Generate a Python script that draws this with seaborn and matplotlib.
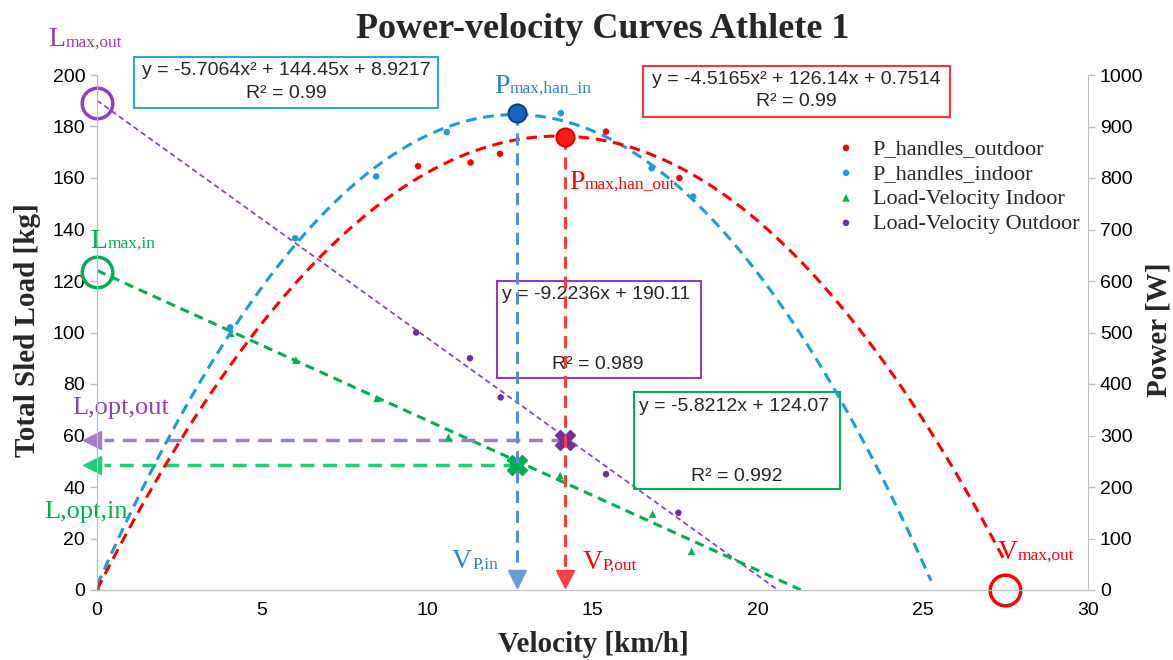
import matplotlib
matplotlib.use('Agg')
import matplotlib.pyplot as plt
import seaborn as sns
import numpy as np
from matplotlib.patches import Rectangle
from matplotlib.offsetbox import TextArea, HPacker, AnnotationBbox

# power at the handles (W) vs velocity (km/h)
p_out_v = [0, 9.72, 11.31, 12.2, 14.14, 15.41, 17.63]
p_out_w = [0, 823, 830, 847, 879, 890, 800]
p_in_v = [0, 4.03, 6.0, 8.45, 10.59, 12.72, 14.04, 16.79, 18.05]
p_in_w = [0, 510, 683, 803, 889, 926, 926, 819, 764]

# load-velocity (kg vs km/h)
lv_in_v = [4.05, 6.02, 8.48, 10.64, 14.02, 16.82, 18.0]
lv_in_kg = [99.7, 89.3, 74.4, 59.3, 44.4, 29.5, 15.0]
lv_out_v = [9.66, 11.29, 12.22, 15.41, 17.6]
lv_out_kg = [100.0, 90.0, 74.8, 45.0, 30.0]

# trendlines as printed on the chart, and how far each one is drawn
fit_p_in = [-5.7064, 144.45, 8.9217]
fit_p_out = [-4.5165, 126.14, 0.7514]
fit_lv_out = [-9.2236, 190.11]
fit_lv_in = [-5.8212, 124.07]
end_p_in, end_p_out, end_lv_out, end_lv_in = 25.25, 27.5, 20.6, 21.3

# key points
vp_in, vp_out = 12.72, 14.17
pmax_in, pmax_out = 926, 879
lopt_in, lopt_out = 48.5, 58.3
lmax_in, lmax_out = 123.4, 189.0
vmax_out = 27.5

C_RED = '#FF0000'
C_BLUE = '#1E9BD7'
C_GREEN = '#00B050'
C_PURPLE = '#7030A0'
SERIF = ['Liberation Serif', 'DejaVu Serif']

sns.set_style('white')
plt.rcParams['font.family'] = ['Liberation Sans', 'DejaVu Sans']

fig = plt.figure(figsize=(11.73, 6.6), dpi=100)
ax = fig.add_axes([97 / 1173, 70 / 660, 991 / 1173, 515 / 660])
ax2 = ax.twinx()


def trend(a, coefs, end, color, lw, dash):
    xs = np.linspace(0, end, 300)
    sns.lineplot(x=xs, y=np.polyval(coefs, xs), ax=a, color=color, lw=lw,
                 linestyle=(0, dash), legend=False)


# fitted curves
trend(ax2, fit_p_in, end_p_in, C_BLUE, 2.2, (3.5, 2.2))
trend(ax2, fit_p_out, end_p_out, C_RED, 2.2, (3.5, 2.2))
trend(ax, fit_lv_out, end_lv_out, '#8E44C0', 1.3, (3, 2))
trend(ax, fit_lv_in, end_lv_in, C_GREEN, 2.2, (3, 2))

# data points
sns.scatterplot(x=lv_in_v, y=lv_in_kg, ax=ax, color=C_GREEN, marker='^', s=30,
                edgecolor='none', label='Load-Velocity Indoor', zorder=4)
sns.scatterplot(x=lv_out_v, y=lv_out_kg, ax=ax, color=C_PURPLE, marker='o', s=22,
                edgecolor='none', label='Load-Velocity Outdoor', zorder=4)
sns.scatterplot(x=p_out_v, y=p_out_w, ax=ax2, color=C_RED, marker='o', s=22,
                edgecolor='none', label='P_handles_outdoor', zorder=4)
sns.scatterplot(x=p_in_v, y=p_in_w, ax=ax2, color=C_BLUE, marker='o', s=22,
                edgecolor='none', label='P_handles_indoor', zorder=4)

# vertical arrows from the power peaks
ax2.plot([vp_in, vp_in], [pmax_in, 30], color='#5B8DD6', lw=2.2, ls=(0, (4, 2.5)))
ax2.plot([vp_out, vp_out], [pmax_out, 30], color='#FF3B3B', lw=2.2, ls=(0, (4, 2.5)))
ax2.plot(vp_in, 22, marker='v', ms=13, color='#6A9AD8', clip_on=False)
ax2.plot(vp_out, 22, marker='v', ms=13, color='#FF4040', clip_on=False)
ax2.plot(vp_in, pmax_in, marker='o', ms=13, color='#1565C0', mec='#0D3F80', mew=1.5, zorder=6)
ax2.plot(vp_out, pmax_out, marker='o', ms=13, color='#FF1A1A', mec='#E00000', mew=1.5, zorder=6)

# horizontal arrows to the optimal loads
ax.plot([vp_out, 0.2], [lopt_out, lopt_out], color='#A47BC8', lw=2.5, ls=(0, (4, 2.5)))
ax.plot([vp_in, 0.2], [lopt_in, lopt_in], color='#1ECF7A', lw=2.5, ls=(0, (4, 2.5)))
ax.plot(-0.15, lopt_out, marker='<', ms=13, color='#A47BC8', clip_on=False)
ax.plot(-0.15, lopt_in, marker='<', ms=13, color='#1ECF7A', clip_on=False)
ax.plot(vp_out, lopt_out, marker='X', ms=15, color=C_PURPLE, mec=C_PURPLE, zorder=6)
ax.plot(vp_in, lopt_in, marker='X', ms=15, color=C_GREEN, mec=C_GREEN, zorder=6)

# hollow circles for intercepts
ax.plot(0, lmax_out, marker='o', ms=22, mfc='none', mec='#8E3FBF', mew=2.5, clip_on=False)
ax.plot(0, lmax_in, marker='o', ms=22, mfc='none', mec=C_GREEN, mew=2.5, clip_on=False)
ax.plot(vmax_out, 0, marker='o', ms=22, mfc='none', mec=C_RED, mew=2.5, clip_on=False, zorder=6)

ax.set_xlim(0, 30)
ax.set_ylim(0, 200)
ax2.set_ylim(0, 1000)
ax.set_xticks(range(0, 31, 5))
ax.set_yticks(range(0, 201, 20))
ax2.set_yticks(range(0, 1001, 100))

for a in (ax, ax2):
    for side in a.spines:
        a.spines[side].set_color('#BFBFBF')
    a.spines['top'].set_visible(False)
    a.tick_params(direction='out', length=5, color='#BFBFBF', labelsize=14,
                  labelcolor='black', width=1)
ax.spines['right'].set_visible(False)
ax.set_xlabel('')
ax.set_ylabel('')
ax2.set_ylabel('')

# equation boxes
def eq_box(x0, x1, y0, y1, color):
    ax.add_patch(Rectangle((x0, y0), x1 - x0, y1 - y0, fill=False, ec=color,
                           lw=1.5, clip_on=False, zorder=5))


eq_box(1.12, 10.32, 187.2, 207.0, '#2EA3DC')
ax.text(5.72, 201.9, 'y = -5.7064x² + 144.45x + 8.9217', ha='center', va='center', fontsize=14)
ax.text(5.72, 193.0, 'R² = 0.99', ha='center', va='center', fontsize=14)

eq_box(16.53, 25.82, 183.7, 203.5, '#FF3333')
ax.text(21.16, 198.4, 'y = -4.5165x² + 126.14x + 0.7514', ha='center', va='center', fontsize=14)
ax.text(21.16, 189.9, 'R² = 0.99', ha='center', va='center', fontsize=14)

eq_box(12.11, 18.29, 82.3, 120.0, '#8E3FBF')
ax.text(12.26, 114.6, 'y = -9.2236x + 190.11', ha='left', va='center', fontsize=14)
ax.text(15.17, 87.4, 'R² = 0.989', ha='center', va='center', fontsize=14)

eq_box(16.26, 22.49, 39.2, 76.9, C_GREEN)
ax.text(16.41, 71.2, 'y = -5.8212x + 124.07', ha='left', va='center', fontsize=14)
ax.text(19.38, 44.0, 'R² = 0.992', ha='center', va='center', fontsize=14)


# labels with a large first letter and a smaller remainder
def tag(x, y, big, small, color, big_size=20, small_size=12.5):
    parts = [TextArea(big, textprops=dict(color=color, fontsize=big_size, family=SERIF)),
             TextArea(small, textprops=dict(color=color, fontsize=small_size, family=SERIF))]
    box = HPacker(children=parts, align='baseline', pad=0, sep=0)
    ab = AnnotationBbox(box, (x, y), xycoords=ax.transData, frameon=False,
                        box_alignment=(0.5, 0.5), annotation_clip=False, zorder=7)
    ax2.add_artist(ab)


tag(-0.36, 213.6, 'L', 'max,out', '#8E3FBF')
tag(0.79, 135.5, 'L', 'max,in', '#00B050')
tag(13.5, 195.7, 'P', 'max,han_in', '#2F7FD0')
tag(15.9, 158.4, 'P', 'max,han_out', C_RED)
tag(11.44, 10.9, 'V', 'P,in', '#2F7FD0')
tag(15.53, 10.5, 'V', 'P,out', C_RED)
tag(28.43, 14.4, 'V', 'max,out', C_RED)
ax.text(0.73, 70.7, 'L,opt,out', color='#8E3FBF', fontsize=19, family=SERIF,
        ha='center', va='center', clip_on=False)
ax.text(-0.33, 30.3, 'L,opt,in', color='#00B050', fontsize=19, family=SERIF,
        ha='center', va='center', clip_on=False)

# legend
if ax.get_legend() is not None:
    ax.get_legend().remove()
h2, l2 = ax2.get_legend_handles_labels()
h1, l1 = ax.get_legend_handles_labels()
ax2.legend(h2 + h1, l2 + l1, loc='upper left', frameon=False,
           bbox_to_anchor=(826 / 1173, 1 - 127 / 660), bbox_transform=fig.transFigure,
           prop=dict(family=SERIF, size=16), handlelength=0.8, handletextpad=0.8,
           labelspacing=0.2, borderpad=0)

fig.text(603 / 1173, 1 - 30 / 660, 'Power-velocity Curves Athlete 1', ha='center', va='center',
         fontsize=26, fontweight='bold', family=SERIF)
fig.text(593 / 1173, 1 - 644 / 660, 'Velocity [km/h]', ha='center', va='center',
         fontsize=21, fontweight='bold', family=SERIF)
fig.text(28 / 1173, 1 - 330 / 660, 'Total Sled Load [kg]', ha='center', va='center',
         rotation=90, fontsize=21, fontweight='bold', family=SERIF)
fig.text(1159 / 1173, 1 - 330 / 660, 'Power [W]', ha='center', va='center',
         rotation=90, fontsize=21, fontweight='bold', family=SERIF)

fig.savefig('out.png', dpi=100)
